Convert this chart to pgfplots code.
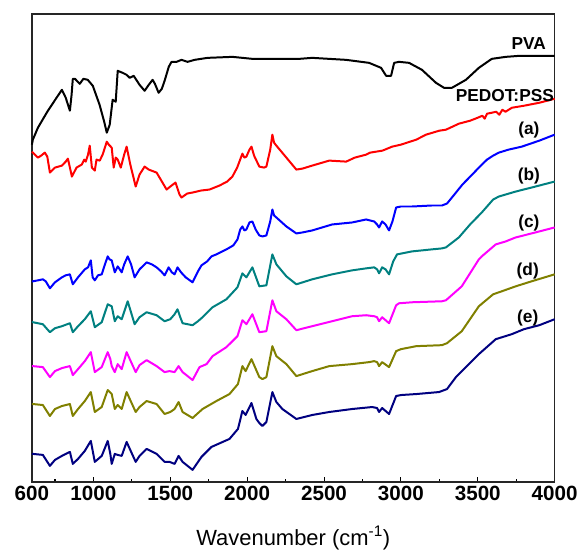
\documentclass[border=0pt]{standalone}
\usepackage{pgfplots}
\pgfplotsset{compat=1.18}
\usepackage{fontspec}
\setmainfont{Liberation Sans}

\definecolor{cteal}{RGB}{0,128,128}
\definecolor{colive}{RGB}{128,128,0}
\definecolor{cnavy}{RGB}{0,0,128}
\definecolor{cmag}{RGB}{255,0,255}

\begin{document}
\begin{tikzpicture}
\begin{axis}[
  scale only axis, width=393pt, height=351.75pt,
  xmin=600, xmax=4000, ymin=-483, ymax=-14,
  xtick={600,1000,1500,2000,2500,3000,3500,4000},
  minor xtick={750,1250,1750,2250,2750,3250,3750},
  ytick=\empty, xtick pos=left, tick align=inside,
  major tick length=3.5pt, minor tick length=2.5pt,
  tick style={black, line width=0.8pt},
  /pgf/number format/assume math mode=true,
  /pgf/number format/1000 sep={},
  xticklabel style={font=\fontsize{15.5}{18}\selectfont\bfseries},
  xlabel={Wavenumber (cm\textsuperscript{-1})},
  xlabel style={font=\fontsize{16.5}{20}\selectfont, yshift=-12pt},
  axis line style={line width=1.2pt, black!85},
  clip=false,
  every axis plot/.append style={line width=1.5pt, line join=round},
]
% PVA
\addplot[black] coordinates {(600,-145)(606,-140)(639,-128)(700,-112)(760,-98)(795,-90)(820,-98)(847,-111)(858,-95)(866,-79)(880,-79)(911,-84)(935,-79)(963,-80)(996,-86)(1040,-105)(1070,-122)(1087,-133)(1106,-125)(1125,-100)(1145,-102)(1158,-71)(1190,-73)(1216,-75)(1236,-78)(1262,-76)(1300,-85)(1333,-91)(1360,-85)(1385,-80)(1400,-84)(1424,-93)(1445,-89)(1463,-81)(1490,-67)(1508,-62)(1540,-62)(1573,-60)(1612,-62)(1658,-60)(1742,-58)(1904,-57)(2034,-59)(2190,-59)(2339,-59)(2423,-58)(2644,-60)(2793,-63)(2871,-68)(2904,-76)(2936,-76)(2956,-63)(2988,-62)(3053,-63)(3137,-70)(3228,-83)(3280,-88)(3332,-88)(3423,-80)(3507,-68)(3591,-59)(3682,-57)(3767,-56)(4000,-56)};
% PEDOT:PSS
\addplot[red] coordinates {(600,-152)(606,-153)(639,-158)(660,-156)(684,-153)(700,-157)(717,-173)(750,-168)(795,-166)(820,-162)(834,-159)(850,-170)(860,-177)(890,-168)(924,-165)(940,-160)(950,-162)(965,-155)(976,-146)(990,-168)(1009,-171)(1020,-160)(1041,-161)(1060,-155)(1087,-142)(1100,-145)(1119,-148)(1132,-168)(1145,-158)(1158,-160)(1178,-168)(1200,-155)(1216,-147)(1240,-165)(1275,-187)(1300,-175)(1333,-167)(1360,-170)(1411,-173)(1476,-190)(1500,-187)(1534,-183)(1560,-195)(1573,-198)(1610,-194)(1645,-193)(1700,-191)(1755,-190)(1820,-186)(1870,-182)(1904,-177)(1935,-168)(1969,-154)(1982,-158)(1995,-157)(2015,-150)(2028,-147)(2045,-156)(2079,-167)(2110,-168)(2125,-167)(2150,-150)(2164,-135)(2175,-143)(2190,-146)(2255,-158)(2320,-170)(2360,-169)(2423,-166)(2534,-161)(2644,-162)(2700,-158)(2774,-155)(2800,-153)(2880,-151)(2943,-147)(3000,-145)(3100,-140)(3163,-135)(3250,-131)(3293,-130)(3377,-124)(3450,-121)(3500,-118)(3530,-116)(3545,-119)(3560,-114)(3591,-113)(3620,-112)(3640,-115)(3660,-110)(3680,-112)(3722,-108)(3800,-106)(3900,-103)(4000,-99)};
% (a)
\addplot[blue] coordinates {(600,-282)(606,-282)(640,-281)(671,-280)(690,-282)(717,-289)(750,-283)(795,-278)(820,-276)(847,-275)(866,-285)(900,-278)(944,-270)(965,-268)(983,-261)(995,-278)(1009,-281)(1030,-276)(1054,-275)(1075,-265)(1093,-257)(1105,-260)(1119,-261)(1139,-273)(1158,-267)(1184,-273)(1200,-265)(1223,-257)(1245,-265)(1268,-278)(1300,-270)(1346,-263)(1380,-265)(1411,-268)(1440,-272)(1463,-276)(1489,-268)(1510,-273)(1528,-275)(1547,-268)(1570,-273)(1600,-278)(1645,-283)(1680,-272)(1703,-266)(1740,-262)(1768,-257)(1800,-255)(1865,-250)(1910,-246)(1937,-240)(1955,-230)(1969,-227)(1982,-231)(1995,-230)(2015,-223)(2034,-222)(2055,-230)(2079,-236)(2100,-237)(2125,-236)(2150,-222)(2164,-210)(2175,-216)(2190,-218)(2255,-227)(2320,-234)(2360,-233)(2423,-231)(2553,-225)(2683,-223)(2774,-220)(2826,-222)(2845,-225)(2858,-228)(2878,-222)(2900,-225)(2923,-231)(2945,-222)(2969,-208)(3000,-207)(3073,-207)(3200,-206)(3267,-206)(3300,-204)(3332,-198)(3400,-185)(3470,-174)(3507,-168)(3560,-160)(3600,-156)(3637,-153)(3700,-150)(3786,-147)(3900,-141)(4000,-135)};
% (b)
\addplot[cteal] coordinates {(600,-323)(606,-323)(671,-325)(717,-333)(750,-329)(795,-327)(847,-324)(866,-333)(900,-327)(944,-320)(983,-312)(1009,-328)(1054,-323)(1093,-305)(1119,-307)(1139,-322)(1158,-317)(1184,-320)(1223,-302)(1268,-325)(1300,-318)(1346,-313)(1411,-316)(1463,-322)(1500,-320)(1528,-315)(1547,-310)(1565,-318)(1580,-324)(1645,-326)(1680,-322)(1710,-318)(1775,-308)(1865,-300)(1937,-288)(1969,-274)(1995,-278)(2034,-268)(2079,-287)(2125,-286)(2164,-255)(2190,-265)(2255,-277)(2320,-285)(2423,-280)(2553,-275)(2683,-271)(2774,-269)(2826,-268)(2845,-270)(2858,-274)(2878,-268)(2900,-270)(2923,-275)(2950,-262)(2975,-255)(3073,-252)(3200,-250)(3267,-249)(3293,-248)(3377,-238)(3450,-225)(3526,-213)(3600,-200)(3637,-197)(3747,-192)(3850,-188)(4000,-182)};
% (c)
\addplot[cmag] coordinates {(600,-367)(606,-367)(671,-368)(717,-378)(750,-372)(795,-369)(847,-367)(866,-376)(900,-370)(944,-362)(983,-353)(1009,-373)(1054,-368)(1093,-353)(1110,-360)(1119,-367)(1139,-373)(1158,-365)(1184,-370)(1216,-353)(1275,-373)(1300,-366)(1346,-361)(1411,-367)(1463,-373)(1495,-372)(1528,-373)(1554,-367)(1580,-373)(1645,-381)(1690,-368)(1736,-365)(1775,-357)(1865,-348)(1937,-337)(1969,-321)(1995,-325)(2034,-315)(2079,-333)(2125,-332)(2164,-301)(2190,-312)(2255,-320)(2320,-331)(2423,-327)(2553,-322)(2683,-317)(2774,-316)(2826,-317)(2845,-318)(2858,-322)(2878,-318)(2923,-324)(2969,-306)(2988,-304)(3073,-303)(3267,-302)(3293,-301)(3396,-287)(3507,-260)(3526,-257)(3617,-245)(3682,-242)(3747,-238)(3850,-234)(4000,-228)};
% (d)
\addplot[colive] coordinates {(600,-405)(606,-405)(671,-406)(717,-417)(750,-410)(795,-407)(847,-405)(866,-417)(900,-410)(944,-402)(983,-393)(1009,-413)(1054,-408)(1093,-391)(1119,-395)(1139,-410)(1158,-406)(1184,-410)(1216,-393)(1275,-413)(1300,-408)(1346,-402)(1411,-405)(1463,-415)(1500,-413)(1528,-410)(1554,-403)(1580,-413)(1645,-419)(1710,-410)(1800,-402)(1885,-395)(1940,-385)(1969,-367)(1990,-372)(2028,-360)(2079,-378)(2099,-380)(2125,-378)(2164,-347)(2190,-357)(2255,-365)(2320,-377)(2423,-372)(2534,-367)(2683,-365)(2793,-363)(2826,-362)(2845,-363)(2858,-367)(2878,-363)(2923,-368)(2969,-352)(3000,-350)(3100,-347)(3267,-346)(3300,-344)(3396,-332)(3507,-307)(3600,-295)(3656,-292)(3747,-287)(3850,-282)(4000,-275)};
% (e)
\addplot[cnavy] coordinates {(600,-455)(606,-455)(671,-456)(717,-467)(750,-461)(795,-457)(847,-453)(866,-465)(900,-460)(944,-452)(983,-442)(1009,-463)(1054,-457)(1093,-442)(1110,-455)(1119,-465)(1139,-455)(1158,-456)(1184,-457)(1216,-443)(1275,-463)(1300,-457)(1346,-450)(1411,-455)(1463,-463)(1495,-463)(1528,-465)(1554,-457)(1580,-463)(1645,-471)(1703,-458)(1768,-448)(1885,-440)(1940,-430)(1969,-412)(1990,-416)(2028,-404)(2060,-420)(2079,-424)(2099,-427)(2125,-423)(2164,-393)(2190,-403)(2229,-410)(2320,-420)(2423,-416)(2534,-413)(2683,-410)(2813,-408)(2845,-409)(2858,-413)(2878,-409)(2923,-415)(2969,-397)(3000,-396)(3100,-395)(3248,-393)(3300,-390)(3358,-378)(3507,-355)(3617,-340)(3721,-335)(3800,-330)(3900,-326)(4000,-320)};

\begin{scope}[every node/.style={font=\fontsize{13}{15}\selectfont\bfseries, inner sep=0pt}]
\node at (axis cs:3832,-44) {PVA};
\node at (axis cs:3676,-96) {PEDOT:PSS};
\node at (axis cs:3832,-130) {(a)};
\node at (axis cs:3832,-176) {(b)};
\node at (axis cs:3832,-224) {(c)};
\node at (axis cs:3825,-272) {(d)};
\node at (axis cs:3825,-319) {(e)};
\end{scope}
\end{axis}
\path (current axis.north) ++(0pt,10.5pt);
\path (current axis.south west) ++(-24pt,-51pt);
\end{tikzpicture}
\end{document}
